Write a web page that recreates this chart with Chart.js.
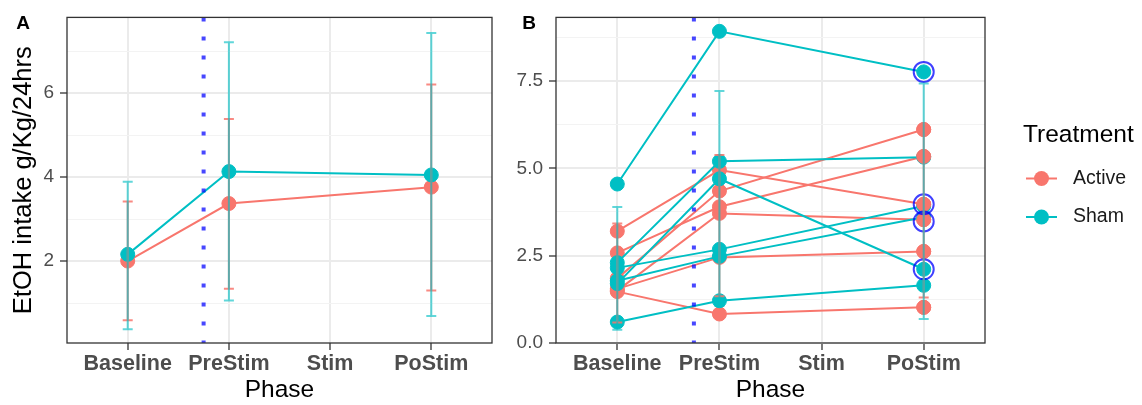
<!DOCTYPE html>
<html>
<head>
<meta charset="utf-8">
<script src="https://cdn.jsdelivr.net/npm/chart.js@4.4.1/dist/chart.umd.min.js"></script>
<style>
  html, body { margin: 0; padding: 0; background: #fff; }
  #wrap { position: relative; width: 1142px; height: 405px; }
  #chartA { position: absolute; left: 0; top: 0; }
  #chartB { position: absolute; left: 500px; top: 0; }
</style>
</head>
<body>
<div id="wrap">
  <canvas id="chartA" width="500" height="405"></canvas>
  <canvas id="chartB" width="642" height="405"></canvas>
</div>
<script>
const FONT = '"Liberation Sans", Arial, sans-serif';
Chart.defaults.font.family = FONT;

const phases = ['Baseline', 'PreStim', 'Stim', 'PoStim'];
const measured = ['Baseline', 'PreStim', 'PoStim'];
const treatments = ['Active', 'Sham'];
const treatmentColors = ['#F8766D', '#00BFC4'];

// panel A - group means and error bar ends
const meanActive = [2.0, 3.37, 3.76];
const meanSham = [2.16, 4.13, 4.05];
const lowActive = [0.59, 1.34, 1.30];
const highActive = [3.42, 5.38, 6.20];
const lowSham = [0.38, 1.06, 0.69];
const highSham = [3.89, 7.21, 7.43];

// panel B - one row per subject: Baseline, PreStim, PoStim
const activeSubjects = [
  [3.20, 4.95, 3.97],
  [2.58, 3.90, 5.34],
  [1.85, 4.35, 6.11],
  [1.50, 3.71, 3.53],
  [1.55, 2.45, 2.62],
  [1.47, 0.83, 1.02]
];
const shamSubjects = [
  [4.55, 8.92, 7.76],
  [2.30, 5.20, 5.32],
  [1.70, 4.70, 2.11],
  [2.15, 2.68, 3.92],
  [1.78, 2.48, 3.60],
  [0.60, 1.21, 1.65]
];
// circled PoStim points
const circled = [7.76, 3.97, 3.48, 2.11];

const cutPhase = 1.75;

const yRangeA = [0.05, 7.8];
const yTicksA = [1, 2, 3, 4, 5, 6, 7];
const yMajorA = [2, 4, 6];
const yRangeB = [0, 9.32];
const yTicksB = [0, 1.25, 2.5, 3.75, 5, 6.25, 7.5, 8.75];
const yMajorB = [0, 2.5, 5, 7.5];

const xPos = p => phases.indexOf(p) + 1;
const toPoints = vals => measured.map((p, i) => ({ x: xPos(p), y: vals[i] }));

function seriesLine(label, vals, colorIdx, order) {
  const c = treatmentColors[colorIdx];
  return {
    label: label,
    data: toPoints(vals),
    borderColor: c,
    backgroundColor: c,
    pointBackgroundColor: c,
    pointBorderColor: c,
    pointBorderWidth: 1,
    pointRadius: 7,
    borderWidth: 2,
    order: order
  };
}

function cutLine(range) {
  return {
    label: 'cut',
    data: [{ x: cutPhase, y: range[1] }, { x: cutPhase, y: range[0] }],
    borderColor: 'rgba(0,0,255,0.72)',
    borderWidth: 4,
    borderDash: [4, 15],
    pointRadius: 0,
    order: 2
  };
}

const errorGroups = [
  { color: 'rgba(248,118,109,0.85)', low: lowActive, high: highActive },
  { color: 'rgba(0,191,196,0.62)', low: lowSham, high: highSham }
];

const framePlugin = {
  id: 'frame',
  afterDraw(chart, args, opts) {
    const { ctx, chartArea: a } = chart;
    ctx.save();
    ctx.strokeStyle = '#333333';
    ctx.lineWidth = 1.3;
    ctx.strokeRect(a.left, a.top, a.right - a.left, a.bottom - a.top);
    ctx.fillStyle = '#000';
    ctx.font = 'bold 19px ' + FONT;
    ctx.textAlign = 'center';
    ctx.textBaseline = 'alphabetic';
    ctx.fillText(opts.tag, opts.tagX, 29);
    ctx.restore();
  }
};

const errorBarPlugin = {
  id: 'errorBars',
  afterDatasetsDraw(chart) {
    const { ctx, scales: { x, y } } = chart;
    ctx.save();
    ctx.lineWidth = 2;
    errorGroups.forEach(g => {
      ctx.strokeStyle = g.color;
      ctx.beginPath();
      measured.forEach((p, i) => {
        const px = x.getPixelForValue(xPos(p));
        const lo = y.getPixelForValue(g.low[i]);
        const hi = y.getPixelForValue(g.high[i]);
        ctx.moveTo(px, lo); ctx.lineTo(px, hi);
        ctx.moveTo(px - 5, lo); ctx.lineTo(px + 5, lo);
        ctx.moveTo(px - 5, hi); ctx.lineTo(px + 5, hi);
      });
      ctx.stroke();
    });
    ctx.restore();
  }
};

const keyPlugin = {
  id: 'treatmentKey',
  afterDraw(chart) {
    const ctx = chart.ctx;
    ctx.save();
    ctx.fillStyle = '#000';
    ctx.textAlign = 'left';
    ctx.textBaseline = 'middle';
    ctx.font = '24.5px ' + FONT;
    ctx.fillText('Treatment', 523, 135);
    ctx.font = '19.5px ' + FONT;
    treatments.forEach((t, i) => {
      const yy = 178.5 + i * 38.5;
      ctx.strokeStyle = treatmentColors[i];
      ctx.fillStyle = treatmentColors[i];
      ctx.lineWidth = 2;
      ctx.beginPath(); ctx.moveTo(526, yy); ctx.lineTo(557, yy); ctx.stroke();
      ctx.beginPath(); ctx.arc(541.5, yy, 7.5, 0, Math.PI * 2); ctx.fill();
      ctx.fillStyle = '#1a1a1a';
      ctx.fillText(t, 573, yy);
    });
    ctx.restore();
  }
};

function makeOptions(cfg) {
  return {
    responsive: false,
    animation: false,
    events: [],
    layout: { padding: { left: 0, right: cfg.padRight, top: 14, bottom: 0 } },
    plugins: {
      legend: { display: false },
      tooltip: { enabled: false },
      frame: { tag: cfg.tag, tagX: cfg.tagX }
    },
    scales: {
      x: {
        type: 'linear',
        min: 0.4,
        max: 4.6,
        afterBuildTicks: s => { s.ticks = phases.map((p, i) => ({ value: i + 1 })); },
        afterFit: s => { s.height = 62; },
        ticks: {
          callback: v => phases[Math.round(v) - 1] || '',
          font: { size: 21.5, weight: 'bold' },
          color: '#4D4D4D',
          padding: 1,
          maxRotation: 0,
          autoSkip: false
        },
        grid: { color: '#EBEBEB', lineWidth: 2, tickColor: '#333333', tickLength: 7, tickWidth: 1.3 },
        border: { display: false },
        title: { display: true, text: 'Phase', font: { size: 24.5 }, color: '#000', padding: { top: 0, bottom: 0 } }
      },
      y: {
        type: 'linear',
        min: cfg.range[0],
        max: cfg.range[1],
        afterBuildTicks: s => { s.ticks = cfg.ticks.map(v => ({ value: v })); },
        afterFit: s => { s.width = cfg.yWidth; },
        ticks: {
          callback: v => cfg.major.includes(v) ? cfg.fmt(v) : '',
          font: { size: 19 },
          color: '#4D4D4D',
          padding: 6,
          autoSkip: false
        },
        grid: {
          color: c => cfg.major.includes(c.tick.value) ? '#EBEBEB' : '#F3F3F3',
          lineWidth: c => cfg.major.includes(c.tick.value) ? 2 : 1,
          tickColor: c => cfg.major.includes(c.tick.value) ? '#333333' : 'rgba(0,0,0,0)',
          tickLength: 7,
          tickWidth: 1.3
        },
        border: { display: false },
        title: cfg.yTitle
          ? { display: true, text: cfg.yTitle, font: { size: 25.5 }, color: '#000', padding: { top: 9, bottom: 0 } }
          : { display: false }
      }
    }
  };
}

new Chart(document.getElementById('chartA'), {
  type: 'line',
  data: {
    datasets: [
      cutLine(yRangeA),
      seriesLine('Sham', meanSham, 1, 3),
      seriesLine('Active', meanActive, 0, 4)
    ]
  },
  options: makeOptions({
    tag: 'A', tagX: 23, padRight: 8, yWidth: 67,
    range: yRangeA, ticks: yTicksA, major: yMajorA, fmt: v => String(v),
    yTitle: 'EtOH intake g/Kg/24hrs'
  }),
  plugins: [framePlugin, errorBarPlugin]
});

const datasetsB = [
  {
    label: 'circled',
    data: circled.map(v => ({ x: xPos('PoStim'), y: v })),
    showLine: false,
    pointRadius: 10,
    pointBorderWidth: 2,
    pointBorderColor: 'rgba(0,0,255,0.75)',
    pointBackgroundColor: 'rgba(0,0,0,0)',
    order: 0
  },
  {
    label: 'Active PoStim',
    data: activeSubjects.map(s => ({ x: xPos('PoStim'), y: s[2] })),
    showLine: false,
    pointRadius: 7,
    pointBorderWidth: 1,
    pointBorderColor: treatmentColors[0],
    pointBackgroundColor: treatmentColors[0],
    order: 1
  },
  cutLine(yRangeB)
];
shamSubjects.forEach((s, i) => datasetsB.push(seriesLine('Sham ' + (i + 1), s, 1, 3)));
activeSubjects.forEach((s, i) => datasetsB.push(seriesLine('Active ' + (i + 1), s, 0, 4)));

new Chart(document.getElementById('chartB'), {
  type: 'line',
  data: { datasets: datasetsB },
  options: makeOptions({
    tag: 'B', tagX: 29, padRight: 157, yWidth: 56,
    range: yRangeB, ticks: yTicksB, major: yMajorB, fmt: v => v.toFixed(1),
    yTitle: null
  }),
  plugins: [framePlugin, errorBarPlugin, keyPlugin]
});
</script>
</body>
</html>
